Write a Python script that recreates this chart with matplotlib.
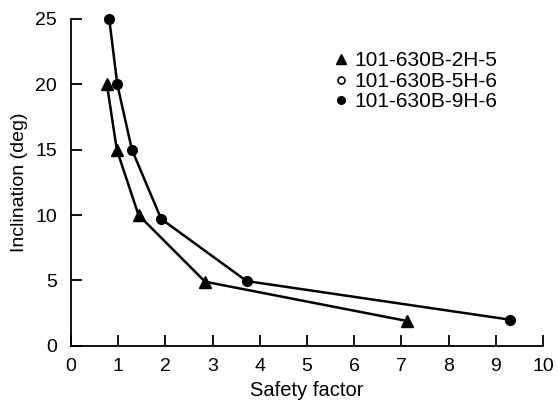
import matplotlib
matplotlib.use('Agg')
import matplotlib.pyplot as plt

plt.rcParams['font.family'] = ['Liberation Sans', 'DejaVu Sans']

# core 2H-5
sf_2h = [0.76, 0.97, 1.43, 2.84, 7.11]
inc_2h = [20, 15, 10, 4.9, 1.9]
# core 9H-6
sf_9h = [0.81, 0.98, 1.29, 1.91, 3.72, 9.29]
inc_9h = [25, 20, 15, 9.7, 4.95, 2.0]

xticks = list(range(0, 11))
yticks = [0, 5, 10, 15, 20, 25]

fig = plt.figure(figsize=(5.57, 4.03), dpi=100)
ax = fig.add_axes([0.1275, 0.142, 0.8475, 0.811])

ax.plot(sf_2h, inc_2h, color='black', lw=1.8, marker='^', ms=8, zorder=3, clip_on=False)
ax.plot(sf_9h, inc_9h, color='black', lw=1.8, marker='o', ms=7, zorder=3, clip_on=False)

# legend entries
h1, = ax.plot([], [], ls='none', marker='^', color='black', ms=7)
h2, = ax.plot([], [], ls='none', marker='o', mfc='white', mec='black', ms=5, mew=1.2)
h3, = ax.plot([], [], ls='none', marker='o', color='black', ms=5.5)
ax.legend([h1, h2, h3], ['101-630B-2H-5', '101-630B-5H-6', '101-630B-9H-6'],
          loc='upper left', bbox_to_anchor=(0.543, 0.927), frameon=False,
          fontsize=15, handlelength=0.5, handletextpad=0.4, labelspacing=0.08,
          borderaxespad=0)

ax.set_xlim(0, 10)
ax.set_ylim(0, 25)
ax.set_xticks(xticks)
ax.set_yticks(yticks)
ax.spines['top'].set_visible(False)
ax.spines['right'].set_visible(False)
for s in ('left', 'bottom'):
    ax.spines[s].set_linewidth(1.3)
ax.tick_params(direction='in', length=8, width=1.3, labelsize=14)
ax.tick_params(axis='x', pad=9)
ax.tick_params(axis='y', pad=10)
ax.set_xlabel('Safety factor', fontsize=14.5, labelpad=4)
ax.set_ylabel('Inclination (deg)', fontsize=14, labelpad=5)

fig.savefig('out.png', dpi=100)
